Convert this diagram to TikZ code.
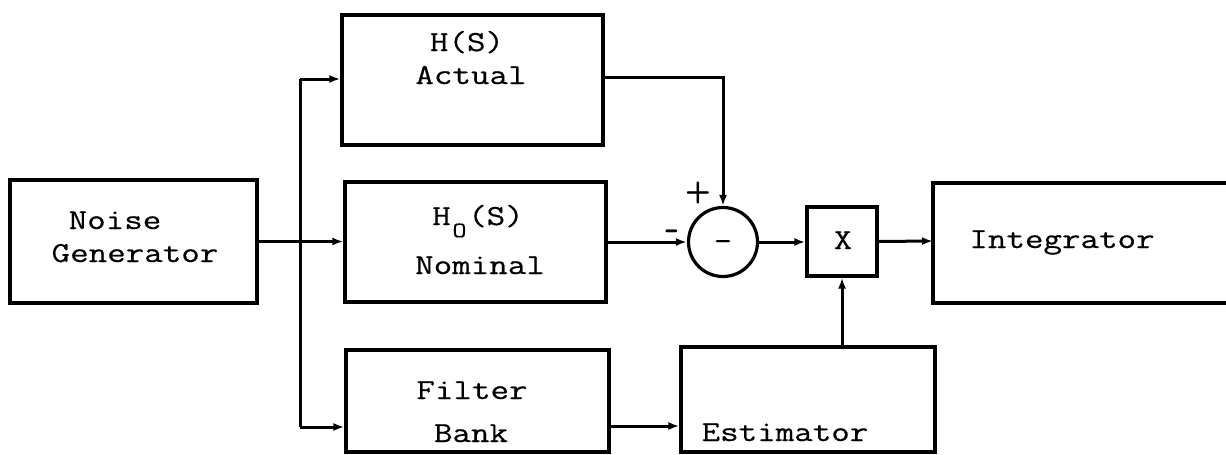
\documentclass[tikz,border=0pt]{standalone}
\usepackage{fontspec}
\setmonofont{Latin Modern Mono}[FakeStretch=1.24,FakeBold=0.5]
\usetikzlibrary{arrows.meta,calc}
\tikzset{
  blk/.style={draw, line width=3.2pt, inner sep=0pt},
  lbl/.style={font=\ttfamily\fontsize{29}{34}\selectfont, inner sep=0pt, anchor=base},
  sgn/.style={font=\sffamily\bfseries\fontsize{30}{30}\selectfont, inner sep=0pt, anchor=base},
  wire/.style={line width=3pt},
  arr/.style={line width=3pt, -{Latex[length=11pt,width=8pt]}},
}
\begin{document}
\begin{tikzpicture}[x=1pt,y=-1pt]
\useasboundingbox (0,0) rectangle (1226,455);
% boxes
\node[blk, minimum width=247pt, minimum height=123pt] (ng) at (133.5,241.5) {};
\node[blk, minimum width=261pt, minimum height=130pt] (hs) at (472.5,80) {};
\node[blk, minimum width=261pt, minimum height=120pt] (ho) at (475.5,242) {};
\node[blk, minimum width=263pt, minimum height=102pt] (fb) at (477.5,401) {};
\node[blk, minimum width=254pt, minimum height=105pt] (est) at (808,399.5) {};
\node[blk, circle, minimum size=69pt] (sum) at (723,242) {};
\node[blk, minimum width=70pt, minimum height=69pt] (mul) at (842,241.5) {};
\coordinate (intw) at (933,241);
\draw[line width=3.2pt] (1226,183) -- (933,183) -- (933,303) -- (1226,303);
% texts
\node[lbl] (t1) at (115,229) {Noise};
\node[lbl] (t2) at (135,262) {Generator};
\node[lbl] (t3) at (467,51) {H(S)};
\node[lbl] (t4) at (471,84) {Actual};
\node[lbl] (t5) at (478,225) {H\makebox[0.6em]{\raisebox{-0.42em}{\fontsize{22}{22}\selectfont O}}(S)};
\node[lbl] (t6) at (480,274) {Nominal};
\node[lbl] (t7) at (472,399) {Filter};
\node[lbl] (t8) at (471,442) {Bank};
\node[lbl] (t9) at (785,441) {Estimator};
\node[lbl] (t10) at (843,249) {X};
\node[lbl] (t11) at (1062,248) {Integrator};
\node[lbl] (t12) at (723,250) {-};
\node[sgn] (t13) at (698,200) {+};
\node[sgn, font=\sffamily\bfseries\fontsize{40}{40}\selectfont] (t14) at (673,240) {-};
% connectors
\coordinate (bt) at (300,79);
\coordinate (bb) at (300,427);
\draw[wire] (bt) -- (bb);
\draw[arr] (bt) -- (bt -| hs.west);
\draw[arr] (bb) -- (bb -| fb.west);
\draw[arr] (ng.east) -- (ng.east -| ho.west);
\coordinate (hsout) at (603,77);
\draw[arr] (hsout) -- (hsout -| sum.north) -- (sum.north);
\draw[arr] (ho.east |- sum.west) -- (sum.west);
\draw[arr] (sum.east) -- (mul.west |- sum.east);
\draw[arr] (mul.east) -- (intw);
\draw[arr] (est.north -| mul.south) -- (mul.south);
\coordinate (bk) at (0,426);
\draw[arr] (fb.east |- bk) -- (est.west |- bk);
\end{tikzpicture}
\end{document}
